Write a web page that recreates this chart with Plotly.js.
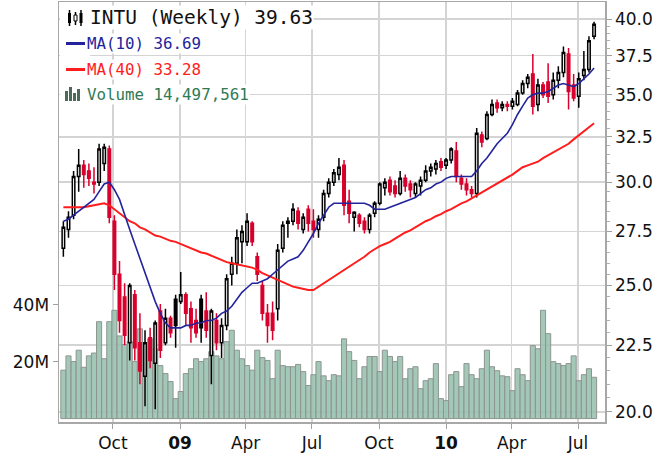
<!DOCTYPE html>
<html><head><meta charset="utf-8">
<script src="https://cdn.plot.ly/plotly-3.0.1.min.js"></script>
<style>html,body{margin:0;padding:0;background:#fff}#chart{width:670px;height:456px}</style>
</head><body><div id="chart"></div>
<script>
const dates = [
'2008-07-25','2008-08-01','2008-08-08','2008-08-15','2008-08-22','2008-08-29','2008-09-05','2008-09-12','2008-09-19','2008-09-26',
'2008-10-03','2008-10-10','2008-10-17','2008-10-24','2008-10-31','2008-11-07','2008-11-14','2008-11-21','2008-11-28','2008-12-05',
'2008-12-12','2008-12-19','2008-12-26','2009-01-02','2009-01-09','2009-01-16','2009-01-23','2009-01-30','2009-02-06','2009-02-13',
'2009-02-20','2009-02-27','2009-03-06','2009-03-13','2009-03-20','2009-03-27','2009-04-03','2009-04-10','2009-04-17','2009-04-24',
'2009-05-01','2009-05-08','2009-05-15','2009-05-22','2009-05-29','2009-06-05','2009-06-12','2009-06-19','2009-06-26','2009-07-03',
'2009-07-10','2009-07-17','2009-07-24','2009-07-31','2009-08-07','2009-08-14','2009-08-21','2009-08-28','2009-09-04','2009-09-11',
'2009-09-18','2009-09-25','2009-10-02','2009-10-09','2009-10-16','2009-10-23','2009-10-30','2009-11-06','2009-11-13','2009-11-20',
'2009-11-27','2009-12-04','2009-12-11','2009-12-18','2009-12-25','2010-01-01','2010-01-08','2010-01-15','2010-01-22','2010-01-29',
'2010-02-05','2010-02-12','2010-02-19','2010-02-26','2010-03-05','2010-03-12','2010-03-19','2010-03-26','2010-04-02','2010-04-09',
'2010-04-16','2010-04-23','2010-04-30','2010-05-07','2010-05-14','2010-05-21','2010-05-28','2010-06-04','2010-06-11','2010-06-18',
'2010-06-25','2010-07-02','2010-07-09','2010-07-16','2010-07-23'];

const openP = [26.7,27.6,28.3,30.3,30.9,30.6,30.0,30.0,31.0,31.8,
28.0,25.5,24.5,22.6,24.6,22.6,21.3,22.8,21.8,23.9,
22.6,23.6,24.4,24.3,24.6,24.0,23.5,24.4,23.9,22.1,
23.5,22.6,23.3,25.5,26.0,27.0,27.0,27.9,26.3,25.0,
23.8,23.8,24.0,26.7,27.9,28.0,28.5,27.6,28.6,28.0,
27.6,28.2,29.4,30.0,30.4,30.9,29.0,28.2,28.3,28.0,
27.6,28.4,28.9,29.7,30.1,29.8,29.4,30.2,29.9,29.4,
29.8,30.1,30.6,30.7,31.1,30.9,31.2,31.7,30.2,29.9,
29.6,29.4,32.6,32.4,33.8,34.5,34.2,34.4,34.3,34.4,
35.1,35.7,36.3,34.4,35.6,35.8,35.0,35.9,36.4,37.6,
35.6,34.9,36.2,36.6,38.8];
const highP = [28.0,28.5,30.6,31.8,31.2,31.0,30.8,32.1,32.1,32.0,
28.3,26.1,25.1,25.1,24.8,23.8,23.1,23.2,23.5,24.2,
24.0,23.7,24.6,25.6,24.7,24.3,24.0,24.6,24.7,24.0,
23.8,23.6,25.5,26.3,27.6,27.8,28.4,28.0,26.5,25.2,
24.2,24.3,26.9,28.0,28.2,28.9,28.7,28.4,28.8,28.6,
28.3,29.6,30.2,30.7,31.3,31.2,29.6,28.5,28.4,28.2,
28.4,29.0,30.0,30.2,30.3,30.1,30.6,30.4,30.1,30.0,
30.3,30.9,31.0,31.2,31.3,31.3,31.9,32.2,30.4,30.2,
29.8,33.0,32.8,34.0,34.7,34.7,34.6,34.6,34.8,35.3,
35.9,36.3,37.6,36.0,35.8,37.0,36.4,36.8,38.1,38.0,
36.3,36.4,37.8,38.8,39.8];
const lowP = [26.3,27.2,28.1,29.5,29.7,29.8,29.4,29.8,30.6,27.9,
24.8,23.0,22.5,21.9,21.9,21.0,20.2,21.6,20.1,22.0,
22.5,22.8,22.4,24.2,23.3,22.6,22.8,22.6,22.8,21.0,
22.3,22.0,23.1,25.0,25.5,26.0,26.8,26.8,25.2,23.5,
22.6,22.7,23.5,26.5,27.2,27.8,27.6,27.4,27.5,27.2,
27.2,28.0,29.2,29.8,30.1,28.3,27.9,27.5,27.7,27.4,
27.4,28.2,28.8,29.3,29.3,29.2,29.3,29.5,29.2,29.2,
29.3,30.0,30.3,30.4,30.6,30.7,31.0,30.0,29.6,29.3,
29.2,29.2,31.9,32.3,33.7,33.9,34.0,34.0,34.1,34.3,
35.0,35.4,33.8,34.0,34.8,34.5,34.7,35.4,36.1,34.1,
34.6,34.2,35.9,36.4,38.6];
const closeP = [27.7,28.2,30.3,30.9,30.4,30.2,29.9,31.8,31.9,28.2,
25.5,23.5,22.9,25.0,22.4,21.5,22.6,21.9,23.4,22.3,
23.6,23.0,23.3,24.6,23.8,23.2,23.0,23.2,23.1,23.9,
22.6,23.3,25.3,26.0,27.2,27.5,28.0,27.0,25.5,23.8,
23.3,23.1,26.6,27.8,28.0,28.6,27.9,28.2,27.9,27.6,
28.1,29.4,30.0,30.5,30.8,28.8,28.4,28.45,27.9,27.6,
28.3,28.9,29.9,30.0,29.5,29.4,30.2,29.8,29.6,29.9,
30.1,30.6,30.8,31.0,30.8,31.2,31.8,30.3,29.9,29.6,
29.4,32.7,32.2,33.8,34.4,34.2,34.4,34.3,34.6,35.1,
35.7,36.1,34.3,35.6,35.0,34.9,35.9,36.4,37.7,35.2,
34.8,36.0,36.6,38.5,39.63];

const ma10 = [28.0,28.1,28.3,28.5,28.7,28.9,29.1,29.5,29.9,30.0,
29.6,29.1,28.3,27.6,26.9,26.2,25.6,24.9,24.3,23.8,
23.4,23.2,23.2,23.2,23.3,23.3,23.4,23.4,23.5,23.5,
23.6,23.8,23.9,24.1,24.4,24.7,24.9,25.1,25.1,25.2,
25.3,25.5,25.7,25.9,26.1,26.2,26.3,26.6,27.0,27.4,
27.9,28.3,28.7,28.9,28.9,28.9,28.9,28.9,28.9,28.9,
28.8,28.6,28.6,28.6,28.7,28.8,28.9,29.0,29.1,29.2,
29.4,29.6,29.7,29.9,30.0,30.2,30.3,30.3,30.3,30.3,
30.3,30.6,31.0,31.3,31.7,32.1,32.4,32.7,33.2,33.8,
34.3,34.8,35.0,35.1,35.1,35.2,35.4,35.6,35.7,35.6,
35.5,35.7,36.0,36.3,36.69];
const ma40 = [28.7,28.7,28.7,28.7,28.7,28.75,28.8,28.85,28.9,28.8,
28.6,28.4,28.2,28.0,27.9,27.7,27.6,27.45,27.3,27.25,
27.15,27.05,27.0,26.9,26.8,26.7,26.6,26.5,26.45,26.35,
26.25,26.15,26.05,26.0,25.95,25.9,25.85,25.8,25.7,25.55,
25.45,25.35,25.25,25.15,25.05,24.95,24.9,24.85,24.8,24.8,
24.95,25.1,25.25,25.4,25.55,25.7,25.85,26.0,26.15,26.3,
26.5,26.65,26.8,26.9,27.0,27.15,27.3,27.45,27.55,27.7,
27.85,28.0,28.1,28.25,28.35,28.5,28.6,28.75,28.9,29.0,
29.15,29.3,29.45,29.6,29.75,29.9,30.05,30.2,30.4,30.6,
30.8,30.9,31.0,31.1,31.3,31.45,31.6,31.75,31.9,32.1,
32.35,32.6,32.8,33.05,33.28];

// weekly volume, millions of shares
const volumeM = [17,22,20,24,18,22,23,34,21,34,
38,29,26,27,20,31.5,24.5,28,24.5,18.6,
15.8,13,7,9.5,15.8,17.5,21,20,21,23.5,
22,21,27,31,24,21,18.6,17,24,21.4,
20.4,14,24,18.6,18.2,18.2,19,16.5,11.6,15.4,
20,15,13.3,15.4,15,28,23.5,20.4,14,18.2,
21.8,21.8,16.5,24,21.8,20,21.8,14,17.5,18.2,
10.5,13.3,14,19.3,7,6.3,15.4,16.5,11.2,19.3,
15.4,14,17.5,24,18.2,16.8,15,14.7,9.8,17.5,
15.4,13.3,25.6,24.5,38,29.8,20,19.3,18.6,19.3,
22,13.3,15.4,17.5,14.497561];

const xTickVals = ['2008-10-01','2009-01-01','2009-04-01','2009-07-01','2009-10-01','2010-01-01','2010-04-01','2010-07-01'];
const xTickText = ['Oct','<b>09</b>','Apr','Jul','Oct','<b>10</b>','Apr','Jul'];
const priceTicks = [20,22.5,25,27.5,30,32.5,35,37.5,40];
const priceTickText = ['20.0','22.5','25.0','27.5','30.0','32.5','35.0','37.5','40.0'];
const volTicks = [20,40];
const volTickText = ['20M','40M'];
const legendText = ['INTU (Weekly) 39.63','MA(10) 36.69','MA(40) 33.28','Volume 14,497,561'];

// split candles: red when close below prior close, black otherwise
const blk = {x:[],o:[],h:[],l:[],c:[]}, rd = {x:[],o:[],h:[],l:[],c:[]};
for (let i=0;i<dates.length;i++){
  const prev = i>0 ? closeP[i-1] : openP[i];
  const t = closeP[i] < prev ? rd : blk;
  t.x.push(dates[i]); t.o.push(openP[i]); t.h.push(highP[i]); t.l.push(lowP[i]); t.c.push(closeP[i]);
}
const RED = '#d8002c';
function candle(s, col){
  return {type:'candlestick', x:s.x, open:s.o, high:s.h, low:s.l, close:s.c, yaxis:'y2',
    increasing:{line:{color:col,width:1.5}, fillcolor:'#ffffff'},
    decreasing:{line:{color:col,width:1.5}, fillcolor:col},
    whiskerwidth:0, showlegend:false, hoverinfo:'skip'};
}
const traces = [
  {type:'bar', x:dates, y:volumeM, yaxis:'y', marker:{color:'rgba(150,192,174,0.88)', line:{color:'#8d9590', width:1}}, hoverinfo:'skip', showlegend:false},
  {type:'scatter', mode:'lines', x:dates, y:ma40, yaxis:'y2', line:{color:'#ff1c1c', width:2}, showlegend:false, hoverinfo:'skip'},
  {type:'scatter', mode:'lines', x:dates, y:ma10, yaxis:'y2', line:{color:'#23249c', width:1.6}, showlegend:false, hoverinfo:'skip'},
  candle(blk,'#000000'),
  candle(rd,RED)
];

// plot area in pixels: x 59..605, y 2..422
const L=59, R=605, T=2, B=422;
const P = x => (x-L)/(R-L);
const Q = y => 1-(y-T)/(B-T);

const minorVals = [];
for (let v=20.5; v<40; v+=0.5){ if (Math.abs(v/2.5-Math.round(v/2.5))>1e-6) minorVals.push(v); }

const last = dates.length-1;
const lastT = new Date(dates[last]+'T00:00:00Z').getTime();
const dayMs = 86400000;
const iso = t => new Date(t).toISOString().slice(0,10);

const shapes = [
  {type:'rect', xref:'x', yref:'y2', layer:'below', x0:iso(lastT-5*dayMs), x1:iso(lastT+5*dayMs),
   y0:Math.log10(lowP[last]*0.995), y1:Math.log10(highP[last]*1.013), fillcolor:'#bff0a8', line:{width:0}},
];
function rectPx(x0,y0,x1,y1,fill,lineCol,lw){
  shapes.push({type:'rect', xref:'paper', yref:'paper', x0:P(x0), x1:P(x1), y0:Q(y1), y1:Q(y0),
    fillcolor:fill, line:{color:lineCol||fill, width:lw===undefined?0:lw}, layer:'above'});
}
function linePx(x0,y0,x1,y1,col,w){
  shapes.push({type:'line', xref:'paper', yref:'paper', x0:P(x0), x1:P(x1), y0:Q(y0), y1:Q(y1),
    line:{color:col, width:w}, layer:'above'});
}
rectPx(60,6,90,104,'#ffffff');
// candle icon
linePx(69.5,10,69.5,26,'#000',1.5); rectPx(68,13,71,23,'#000');
linePx(75.5,12,75.5,25,'#000',1.5); rectPx(74,15,77,21,'#fff','#000',1);
linePx(81,10,81,26,'#000',1.5); rectPx(79.5,13,82.5,23,'#000');
// MA dashes
linePx(66,43.5,85,43.5,'#23249c',3);
linePx(66,69.5,85,69.5,'#ff1c1c',3);
// volume icon
rectPx(65,91,68,101,'#4a6a5a'); rectPx(69,87,72,101,'#4a6a5a'); rectPx(73,93,76,101,'#4a6a5a'); rectPx(77,89,80,101,'#4a6a5a');

const FONT = 'DejaVu Sans, Verdana, sans-serif';
const MONO = 'DejaVu Sans Mono, Liberation Mono, monospace';
const annCols = ['#111111','#23249c','#ff1c1c','#2f7a55'];
const annY = [18,44,70,94];
const annX = [89,86,86,86];
const annSize = [19.5,15.8,15.8,15.8];
const annotations = legendText.map((t,i)=>({xref:'paper', yref:'paper', x:P(annX[i]), y:Q(annY[i]), xanchor:'left', yanchor:'middle',
  text:t, showarrow:false, bgcolor:'#ffffff', borderpad:0, font:{family:MONO, size:annSize[i], color:annCols[i]}}));

const layout = {
  width:670, height:456, margin:{l:L, r:670-R, t:T, b:456-B}, paper_bgcolor:'#fff', plot_bgcolor:'#fff',
  showlegend:false, bargap:0, dragmode:false,
  xaxis:{type:'date', range:['2008-07-19','2010-08-07'], tickvals:xTickVals, ticktext:xTickText,
    showgrid:true, gridcolor:'#d4d4d4', gridwidth:1.5, ticks:'outside', ticklen:5, tickcolor:'#a0a0a0',
    showline:true, linecolor:'#a8a8a8', linewidth:1.5, mirror:true, rangeslider:{visible:false},
    tickfont:{family:FONT, size:17, color:'#111'}, fixedrange:true},
  yaxis:{range:[-1.2,146.2], side:'left', tickvals:volTicks, ticktext:volTickText, showgrid:false, zeroline:false,
    ticks:'outside', ticklen:5, tickcolor:'#a0a0a0', showline:true, linecolor:'#a8a8a8', linewidth:1.5,
    tickfont:{family:FONT, size:17, color:'#111'}, fixedrange:true},
  yaxis2:{type:'log', overlaying:'y', side:'right', range:[Math.log10(19.65), Math.log10(41.22)],
    tickvals:priceTicks, ticktext:priceTickText, showgrid:true, gridcolor:'#d4d4d4', gridwidth:1.5,
    ticks:'outside', ticklen:5, tickcolor:'#a0a0a0', showline:true, linecolor:'#a8a8a8', linewidth:1.5,
    minor:{tickmode:'array', tickvals:minorVals, ticks:'outside', ticklen:3, tickcolor:'#b0b0b0', showgrid:false},
    tickfont:{family:FONT, size:17, color:'#111'}, fixedrange:true},
  shapes:shapes, annotations:annotations
};
Plotly.newPlot('chart', traces, layout, {staticPlot:true, displayModeBar:false});
</script></body></html>
